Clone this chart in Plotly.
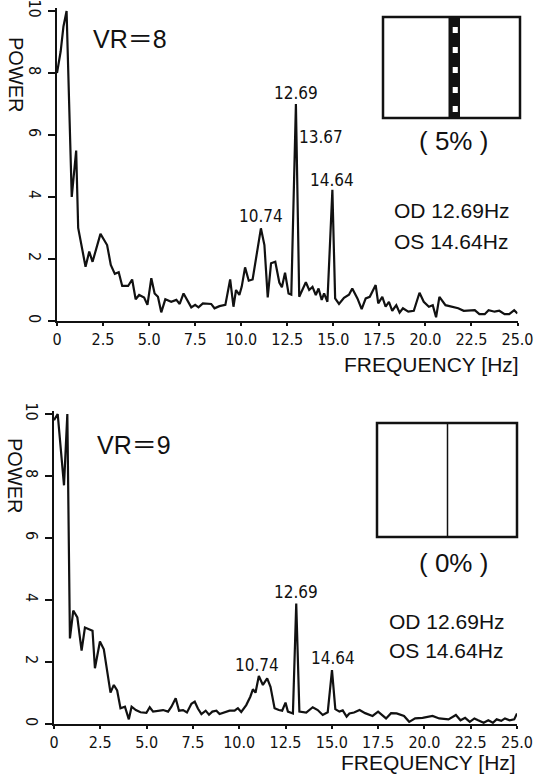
import plotly.graph_objects as go

W, H = 534, 778

# ---------------- data ----------------
TOP_FREQ = [0, 0.2, 0.35, 0.52, 0.8, 1.04, 1.15, 1.33, 1.55, 1.75, 1.93, 2.36, 2.72, 2.92,
            3.14, 3.35, 3.54, 3.86, 4.08, 4.27, 4.46, 4.73, 4.91, 5.12, 5.30, 5.48, 5.66,
            5.88, 6.2, 6.48, 6.66, 6.87, 7.07, 7.29, 7.5, 7.68, 7.92, 8.2, 8.37, 8.55, 8.82,
            9.14, 9.4, 9.58, 9.72, 9.9, 10.03, 10.21, 10.41, 10.62, 11.07, 11.26, 11.44,
            11.62, 11.85, 12.07, 12.21, 12.38, 12.57, 12.72, 12.97, 13.15, 13.33, 13.51,
            13.69, 13.87, 14.05, 14.2, 14.37, 14.5, 14.68, 14.95, 15.1, 15.31, 15.58, 15.85,
            16.03, 16.2, 16.31, 16.54, 16.76, 16.98, 17.3, 17.44, 17.66, 17.84, 18.02, 18.2,
            18.42, 18.6, 18.78, 19.07, 19.37, 19.68, 19.91, 20.19, 20.4, 20.58, 20.76, 21.09,
            21.45, 21.78, 22.08, 22.39, 22.68, 22.93, 23.22, 23.43, 23.76, 24.01, 24.3,
            24.55, 24.82, 25.0]
TOP_POWER = [8.0, 8.7, 9.5, 10.0, 4.0, 5.5, 3.0, 2.4, 1.75, 2.24, 1.91, 2.81, 2.45, 1.81,
             1.52, 1.57, 1.13, 1.13, 1.34, 0.70, 0.84, 0.76, 0.52, 1.38, 0.89, 0.78, 0.28,
             0.70, 0.62, 0.68, 0.55, 0.89, 0.68, 0.44, 0.52, 0.44, 0.57, 0.57, 0.55, 0.41, 0.48,
             0.52, 1.34, 0.46, 1.0, 0.84, 1.11, 1.73, 1.30, 1.34, 2.99, 2.45, 0.76,
             1.86, 1.91, 1.24, 1.09, 1.56, 0.89, 0.85, 7.0, 0.78, 1.0, 1.25,
             1.0, 1.1, 0.84, 1.05, 0.68, 0.89, 0.62, 4.23, 0.73, 0.55, 0.75, 0.85,
             1.05, 0.85, 0.73, 0.38, 0.73, 0.78, 1.16, 0.57, 0.78, 0.46, 0.62, 0.33,
             0.51, 0.27, 0.41, 0.30, 0.33, 0.91, 0.62, 0.46, 0.51, 0.12, 0.78, 0.51,
             0.46, 0.41, 0.33, 0.35, 0.35, 0.22, 0.22, 0.35, 0.30, 0.33, 0.22,
             0.22, 0.35, 0.24]

BOT_FREQ = [0, 0.2, 0.54, 0.72, 0.86, 1.04, 1.26, 1.49, 1.67, 2.08, 2.21, 2.48, 2.69, 3.05,
            3.23, 3.41, 3.59, 3.83, 4.04, 4.19, 4.42, 4.67, 4.99, 5.17, 5.35, 5.62, 5.89,
            6.16, 6.34, 6.57, 6.75, 6.97, 7.18, 7.42, 7.6, 7.77, 7.96, 8.19, 8.37, 8.55,
            8.77, 8.94, 9.2, 9.48, 9.75, 9.93, 10.11, 10.38, 10.6, 10.74, 10.88, 11.06,
            11.28, 11.51, 11.69, 11.91, 12.14, 12.32, 12.5, 12.63, 12.9, 13.08, 13.25,
            13.62, 13.97, 14.24, 14.51, 14.78, 15.01, 15.19, 15.41, 15.59, 15.8, 15.95,
            16.2, 16.5, 16.8, 17.2, 17.5, 17.93, 18.2, 18.5, 18.9, 19.18, 19.5, 19.9, 20.44,
            20.8, 21.3, 21.7, 21.95, 22.2, 22.45, 22.7, 22.9, 23.2, 23.45, 23.7, 23.9,
            24.15, 24.35, 24.6, 24.85, 25.0]
BOT_POWER = [9.8, 10.0, 7.7, 10.0, 2.76, 3.66, 3.44, 2.37, 3.11, 3.01, 1.8, 2.66, 2.41, 1.01,
             1.26, 1.08, 0.51, 0.56, 0.15, 0.56, 0.45, 0.38, 0.36, 0.54, 0.4, 0.43, 0.45,
             0.4, 0.56, 0.83, 0.43, 0.45, 0.37, 0.65, 0.72, 0.5, 0.32, 0.43, 0.3, 0.4,
             0.43, 0.32, 0.38, 0.43, 0.43, 0.51, 0.39, 0.61, 0.88, 1.12, 1.01, 1.55,
             1.26, 1.47, 1.2, 0.51, 0.45, 0.43, 0.69, 0.4, 0.34, 3.89, 0.4,
             0.37, 0.54, 0.45, 0.29, 0.38, 1.74, 0.48, 0.4, 0.44, 0.24, 0.34,
             0.37, 0.45, 0.35, 0.26, 0.4, 0.18, 0.35, 0.34, 0.26, 0.07, 0.18, 0.2, 0.26,
             0.18, 0.15, 0.29, 0.12, 0.2, 0.07, 0.18, 0.12, 0.04, 0.12, 0.04, 0.15,
             0.1, 0.18, 0.12, 0.15, 0.34]

X_TICKS = [0, 2.5, 5, 7.5, 10, 12.5, 15, 17.5, 20, 22.5, 25]
X_TICK_TEXT = ["0", "2.5", "5.0", "7.5", "10.0", "12.5", "15.0", "17.5", "20.0", "22.5", "25.0"]
Y_TICKS = [0, 2, 4, 6, 8, 10]
Y_TICK_TEXT = ["0", "2", "4", "6", "8", "10"]

TOP_TITLE, BOT_TITLE = "VR＝8", "VR＝9"
TOP_PCT, BOT_PCT = "( 5% )", "( 0% )"
OD_TEXT, OS_TEXT = "OD 12.69Hz", "OS 14.64Hz"
X_TITLE, Y_TITLE = "FREQUENCY [Hz]", "POWER"
# peak labels: (text, x, y) in data units
TOP_PEAKS = [("10.74", 11.08, 3.39), ("12.69", 12.97, 7.35), ("13.67", 14.32, 5.94), ("14.64", 14.95, 4.55)]
BOT_PEAKS = [("10.74", 10.96, 1.89), ("12.69", 13.08, 4.27), ("14.64", 15.05, 2.13)]

# ---------------- layout helpers ----------------
def px(x):
    return x / W

def py(y):
    return 1 - y / H

NARROW = "Liberation Sans Narrow, DejaVu Sans Condensed, Arial Narrow, Liberation Sans, sans-serif"
SANS = "Liberation Sans, Arial, Noto Sans CJK JP, sans-serif"

fig = go.Figure()
fig.add_trace(go.Scatter(x=TOP_FREQ, y=TOP_POWER, mode="lines", xaxis="x", yaxis="y",
                         line=dict(color="#111", width=2.2), showlegend=False))
fig.add_trace(go.Scatter(x=BOT_FREQ, y=BOT_POWER, mode="lines", xaxis="x2", yaxis="y2",
                         line=dict(color="#111", width=2.2), showlegend=False))

common_x = dict(range=[0, 25], tickvals=X_TICKS, ticktext=X_TICK_TEXT, showgrid=False,
                zeroline=False, showline=True, linecolor="#111", linewidth=2,
                ticks="outside", ticklen=3, tickwidth=1.5, tickcolor="#111",
                automargin=False,
                tickfont=dict(family=NARROW, size=16, color="#111"))
common_y = dict(range=[0, 10.1], tickvals=Y_TICKS, ticktext=Y_TICK_TEXT, showgrid=False,
                zeroline=False, showline=True, linecolor="#111", linewidth=2,
                ticks="outside", ticklen=7, tickwidth=1.5, tickcolor="#111", tickangle=90,
                automargin=False, ticklabeloverflow="allow",
                tickfont=dict(family=NARROW, size=16, color="#111"))

top_y0, top_y1 = 321, 321 - 31 * 10.1
bot_y0, bot_y1 = 724, 724 - 31 * 10.1

fig.update_layout(
    width=W, height=H, autosize=False,
    margin=dict(l=0, r=0, t=0, b=0, autoexpand=False),
    paper_bgcolor="white", plot_bgcolor="white",
    xaxis=dict(domain=[px(57), px(517.5)], anchor="y", **common_x),
    yaxis=dict(domain=[py(top_y0), py(top_y1)], anchor="x", **common_y),
    xaxis2=dict(domain=[px(54), px(517)], anchor="y2", **common_x),
    yaxis2=dict(domain=[py(bot_y0), py(bot_y1)], anchor="x2", **common_y),
)

ann = []
for txt, x, y in TOP_PEAKS:
    ann.append(dict(text=txt, x=x, y=y, xref="x", yref="y", showarrow=False,
                    font=dict(family=NARROW, size=17, color="#111")))
for txt, x, y in BOT_PEAKS:
    ann.append(dict(text=txt, x=x, y=y, xref="x2", yref="y2", showarrow=False,
                    font=dict(family=NARROW, size=17, color="#111")))

def paper_text(txt, x, y, size, xanchor="center", angle=0, family=SANS):
    ann.append(dict(text=txt, x=px(x), y=py(y), xref="paper", yref="paper", showarrow=False,
                    xanchor=xanchor, yanchor="middle", textangle=angle,
                    font=dict(family=family, size=size, color="#111")))

paper_text(TOP_TITLE, 130, 39, 25)
paper_text(BOT_TITLE, 134, 445, 25)
paper_text(Y_TITLE, 16, 75, 20, angle=90)
paper_text(Y_TITLE, 15, 476, 20, angle=90)
paper_text(OD_TEXT, 392, 210, 21, xanchor="left")
paper_text(OS_TEXT, 392, 241, 21, xanchor="left")
paper_text(OD_TEXT, 387, 621, 21, xanchor="left")
paper_text(OS_TEXT, 387, 650, 21, xanchor="left")
paper_text(TOP_PCT, 453, 141, 26)
paper_text(BOT_PCT, 453, 563, 26)
paper_text(X_TITLE, 521, 365, 21, xanchor="right")
paper_text(X_TITLE, 518, 762, 21, xanchor="right")

shapes = []
def rect(x0, y0, x1, y1, fill="rgba(0,0,0,0)", lw=2.5):
    shapes.append(dict(type="rect", xref="paper", yref="paper", x0=px(x0), x1=px(x1),
                       y0=py(y0), y1=py(y1), fillcolor=fill,
                       line=dict(color="#111", width=lw)))

# top stimulus icon (5%)
rect(383, 17, 520, 118)
rect(448.5, 17, 460, 118, fill="#111", lw=0)
for y0 in [27, 47, 67, 87, 106]:
    rect(452.7, y0, 457.8, y0 + 6, fill="white", lw=0)
# bottom stimulus icon (0%)
rect(377, 423, 517, 537)
shapes.append(dict(type="line", xref="paper", yref="paper", x0=px(447.5), x1=px(447.5),
                   y0=py(423), y1=py(537), line=dict(color="#111", width=1.5)))

fig.update_layout(annotations=ann, shapes=shapes)

fig.write_html("out.html",
               config={"responsive": False, "displayModeBar": False},
               post_script=("var s=document.createElement('style');"
                            "s.textContent='html,body{margin:0;padding:0;overflow:hidden;}';"
                            "document.head.appendChild(s);"))
